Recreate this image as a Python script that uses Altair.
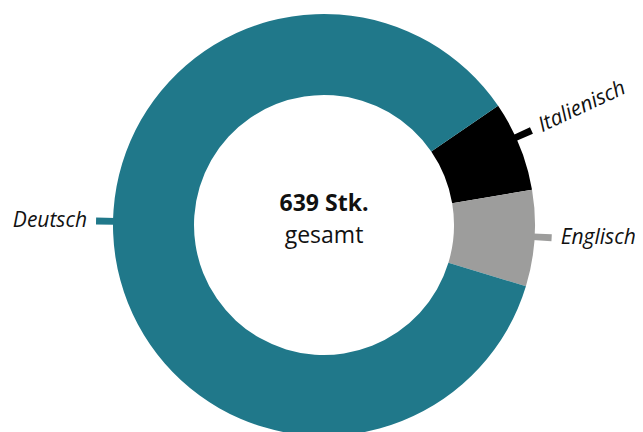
import math
import altair as alt
import pandas as pd

languages = ["Italienisch", "Englisch", "Deutsch"]
counts = [44, 47, 548]
colors = ["#000000", "#9d9d9c", "#20788a"]
center_value = "639 Stk."
center_label = "gesamt"

start_deg = 55.6
# label directions (degrees clockwise from 12 o'clock) chosen for placement
label_dir = {"Italienisch": 65.5, "Englisch": 93.2, "Deutsch": 271.0}

total = sum(counts)
rows = []
cum = 0
for lang, c, col in zip(languages, counts, colors):
    a0 = start_deg + cum / total * 360
    a1 = start_deg + (cum + c) / total * 360
    cum += c
    mid = label_dir[lang]
    rot = 335 if lang == "Italienisch" else 0
    side = "right" if (mid % 360) < 180 else "left"
    rows.append(dict(lang=lang, count=c, color=col,
                     t0=math.radians(a0), t1=math.radians(a1),
                     k0=math.radians(mid - 0.9), k1=math.radians(mid + 0.9),
                     tm=math.radians(mid), rot=rot, side=side))
df = pd.DataFrame(rows)

col_scale = alt.Scale(domain=languages, range=colors)
base = alt.Chart(df)

arcs = base.mark_arc(radius=211, radius2=130).encode(
    theta=alt.Theta("t0:Q", scale=None),
    theta2="t1:Q",
    color=alt.Color("lang:N", scale=col_scale, legend=None),
)
ticks = base.mark_arc(radius=228, radius2=209).encode(
    theta=alt.Theta("k0:Q", scale=None),
    theta2="k1:Q",
    color=alt.Color("lang:N", scale=col_scale, legend=None),
)
font = "Open Sans"
lab_r = base.transform_filter(alt.datum.side == "right").mark_text(
    radius=237, align="left", baseline="middle", font=font, fontStyle="italic",
    fontSize=21, color="#111111").encode(
    theta=alt.Theta("tm:Q", scale=None),
    text="lang:N",
    angle=alt.Angle("rot:Q", scale=None),
)
lab_l = base.transform_filter(alt.datum.side == "left").mark_text(
    radius=237, align="right", baseline="middle", font=font, fontStyle="italic",
    fontSize=21, color="#111111").encode(
    theta=alt.Theta("tm:Q", scale=None),
    text="lang:N",
)
cdf = pd.DataFrame({"t": [center_value]})
cdf2 = pd.DataFrame({"t": [center_label]})
c1 = alt.Chart(cdf).mark_text(font=font, fontWeight="bold", fontSize=23,
                              dy=-21, color="#111111").encode(text="t:N")
c2 = alt.Chart(cdf2).mark_text(font=font, fontSize=23, dy=11,
                               color="#111111").encode(text="t:N")

chart = alt.layer(arcs, ticks, lab_r, lab_l, c1, c2).properties(
    width=622, height=398,
    autosize=alt.AutoSizeParams(type="none"),
    padding={"left": 5, "top": 18, "right": 0, "bottom": 8},
).configure_view(stroke=None)

chart.save("out.html", embed_options={"renderer": "svg", "actions": False})
